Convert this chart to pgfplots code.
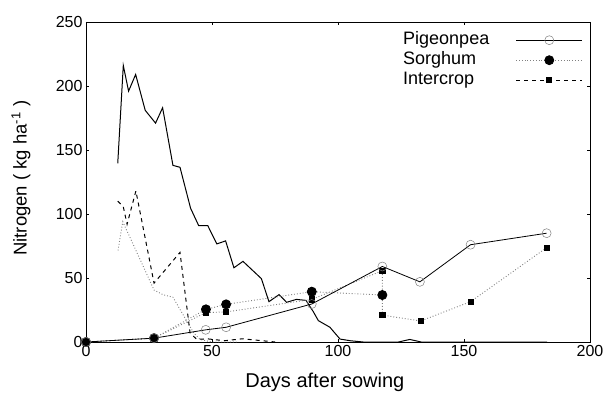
\documentclass[border=0pt]{standalone}
\usepackage{pgfplots}
\pgfplotsset{compat=1.18}
\usepackage{fontspec}
\setmainfont{Liberation Sans}
\begin{document}
\begin{tikzpicture}
\begin{axis}[
  scale only axis,
  width=504bp, height=320bp,
  xmin=0, xmax=200, ymin=0, ymax=250,
  xtick={0,50,...,200}, ytick={0,50,...,250},
  tick align=inside, major tick length=3bp,
  tick style={black, line width=0.5bp},
  axis line style={black, line width=0.8bp},
  /pgf/number format/assume math mode=true,
  ticklabel style={font=\fontsize{16bp}{18bp}\selectfont},
  xlabel={Days after sowing},
  ylabel={Nitrogen ( kg ha\textsuperscript{-1} )},
  label style={font=\fontsize{18.5bp}{20bp}\selectfont},
  xlabel style={at={(axis description cs:0.474,-0.127)}, anchor=center, font=\fontsize{20bp}{22bp}\selectfont},
  ylabel style={at={(axis description cs:-0.129,0.512)}, anchor=center},
  legend plot pos=right,
  legend cell align=left,
  legend image code/.code={\draw[mark repeat=2,mark phase=2,#1] plot coordinates {(0bp,0bp)(33bp,0bp)(66bp,0bp)};},
  legend style={at={(axis description cs:0.626,0.975)}, anchor=north west, draw=none, fill=none, inner sep=0pt,
    font=\fontsize{18bp}{20bp}\selectfont, row sep=0bp, column sep=25bp,
    nodes={inner sep=1.5bp, text height=13bp, text depth=4bp}},
]
% legend images
\addlegendimage{black, solid, line width=0.8bp, mark=o, mark size=4.5bp, mark options={solid, gray, line width=0.5bp}}
\addlegendentry{Pigeonpea}
\addlegendimage{gray, dotted, line width=0.8bp, mark=*, mark size=4.5bp, mark options={solid, black}}
\addlegendentry{Sorghum}
\addlegendimage{black, dash pattern=on 4bp off 4bp, line width=1bp, mark=square*, mark size=2.6bp, mark options={solid, black}}
\addlegendentry{Intercrop}

% simulated pigeonpea (solid)
\addplot[black, line width=1bp, forget plot] coordinates {
(12.6,139.6)(14.8,216)(16.9,196)(19.7,209)(23.5,181)(27.6,171)(30.4,183)(34.5,138)(37.3,136.5)(41.5,104.5)(44.7,91)(48.3,91)(51.9,76.6)(55.4,79)(58.7,58)(62.3,63)(69.6,49.5)(72.6,31.5)(76.6,37)(79.6,31)(83.5,33.3)(87.3,32.5)(90.2,23.7)(92.2,16.7)(96.8,11.5)(100.8,2.3)(104.8,1)(110,0)(124,0)(128.5,2)(133,0)(183,0)};
% simulated sorghum (dotted)
\addplot[gray, dotted, line width=0.9bp, forget plot] coordinates {
(12.7,71.5)(14.6,94)(27,40.6)(30.5,37)(34.5,35)(42.6,7.5)(45.2,2)(50,0)(60,0)};
% simulated intercrop (dashed)
\addplot[black, dash pattern=on 4bp off 4bp, line width=1bp, forget plot] coordinates {
(12.6,110)(14.8,105.7)(16.3,92)(19.8,118)(27,46)(37.3,70)(41.3,7)(44,2)(48,2.5)(55,1)(62,2.5)(70,1)(75,0)};

% observed sorghum
\addplot[gray, dotted, line width=0.9bp, mark=*, mark size=4.5bp, mark options={solid, black}, forget plot] coordinates {
(0,0)(27,3)(47.6,25.5)(55.6,29.4)(89.6,39.3)(117.6,36.7)};
% observed intercrop
\addplot[gray, dotted, line width=0.9bp, mark=square*, mark size=2.6bp, mark options={solid, black}, forget plot] coordinates {
(0,0)(27,3)(47.6,23)(55.6,23.5)(89.6,33.3)(117.6,55.7)(117.6,21)(132.8,16.4)(152.6,31.5)(182.8,73.7)};
% observed pigeonpea
\addplot[black, line width=0.8bp, mark=o, mark size=4.5bp, mark options={solid, gray, line width=0.5bp}, forget plot] coordinates {
(0,0)(27,3)(47.5,9.5)(55.6,11.5)(89.6,29.7)(117.6,59)(132.5,47)(152.6,76)(182.8,85)};
\end{axis}
\pgfresetboundingbox
\path[use as bounding box] (-86bp,-54bp) rectangle (518bp,342bp);
\end{tikzpicture}
\end{document}
